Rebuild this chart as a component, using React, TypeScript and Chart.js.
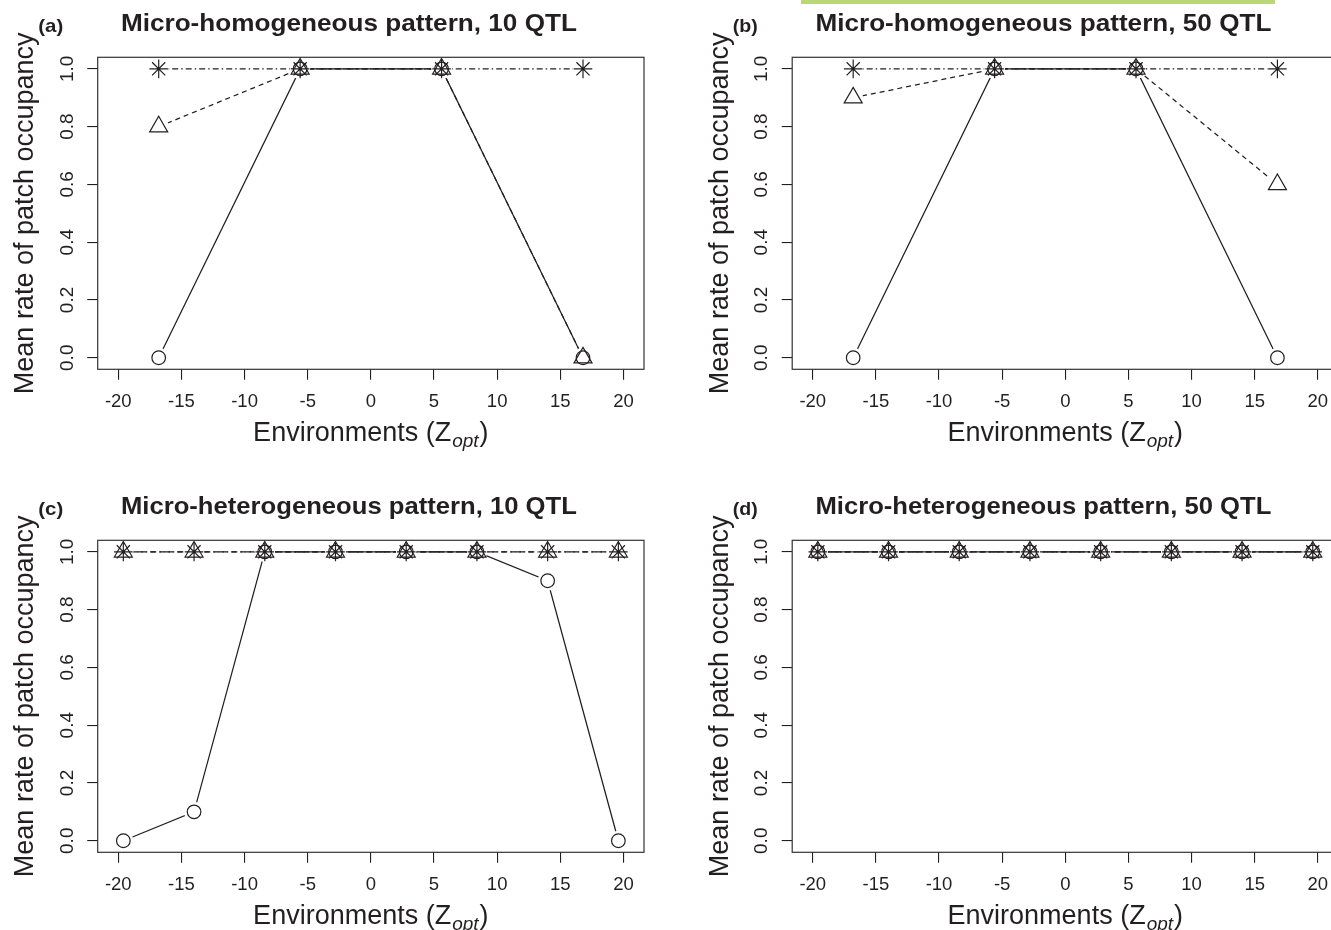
import React, { useEffect, useRef } from "react";
import { Chart, registerables } from "chart.js";

Chart.register(...registerables);

// ---------- data ----------
const xTickValues = [-20, -15, -10, -5, 0, 5, 10, 15, 20];
const yTickValues = [0, 0.2, 0.4, 0.6, 0.8, 1.0];

const envHomo = [-16.8, -5.6, 5.6, 16.8];
const envHetero = [-19.6, -14, -8.4, -2.8, 2.8, 8.4, 14, 19.6];

const aCircle = [0, 1, 1, 0];
const aTriangle = [0.8, 1, 1, 0];
const aStar = [1, 1, 1, 1];

const bCircle = [0, 1, 1, 0];
const bTriangle = [0.9, 1, 1, 0.6];
const bStar = [1, 1, 1, 1];

const cCircle = [0, 0.1, 1, 1, 1, 1, 0.9, 0];
const cTriangle = [1, 1, 1, 1, 1, 1, 1, 1];
const cStar = [1, 1, 1, 1, 1, 1, 1, 1];

const dCircle = [1, 1, 1, 1, 1, 1, 1, 1];
const dTriangle = [1, 1, 1, 1, 1, 1, 1, 1];
const dStar = [1, 1, 1, 1, 1, 1, 1, 1];

const panelLabels = ["(a)", "(b)", "(c)", "(d)"];
const panelTitles = [
  "Micro-homogeneous pattern, 10 QTL",
  "Micro-homogeneous pattern, 50 QTL",
  "Micro-heterogeneous pattern, 10 QTL",
  "Micro-heterogeneous pattern, 50 QTL",
];
const xTitleMain = "Environments (Z";
const xTitleSub = "opt";
const xTitleEnd = ")";
const yTitle = "Mean rate of patch occupancy";

// ---------- style ----------
const FONT = "'Liberation Sans', Arial, Helvetica, sans-serif";
const INK = "#231f20";
const BOX = "#333333";
const X_MIN = -21.63;
const X_MAX = 21.63;
const Y_MIN = -0.04;
const Y_MAX = 1.04;
const Y_AXIS_W = 20;
const X_AXIS_H = 40;

Chart.defaults.font.family = FONT;

type Area = { L: number; T: number; R: number; B: number };
type PanelProps = {
  left: number;
  top: number;
  width: number;
  height: number;
  area: Area;
  label: string;
  title: string;
  env: number[];
  circle: number[];
  triangle: number[];
  star: number[];
};

const pts = (xs: number[], ys: number[]) => xs.map((x, i) => ({ x, y: ys[i] }));

const decorPlugin = {
  id: "decor",
  afterDraw(chart: any) {
    const { ctx, chartArea: ca, scales } = chart;
    const p = chart.options.plugins.decor;
    ctx.save();
    // box
    ctx.strokeStyle = BOX;
    ctx.lineWidth = 1.2;
    ctx.strokeRect(ca.left, ca.top, ca.right - ca.left, ca.bottom - ca.top);

    ctx.fillStyle = INK;
    // y tick labels (rotated, R style)
    ctx.font = `19px ${FONT}`;
    ctx.textAlign = "center";
    ctx.textBaseline = "alphabetic";
    for (const v of yTickValues) {
      const y = scales.y.getPixelForValue(v);
      ctx.save();
      ctx.translate(ca.left - 25, y);
      ctx.rotate(-Math.PI / 2);
      ctx.fillText(v.toFixed(1), 0, 0);
      ctx.restore();
    }
    // y title
    ctx.font = `27px ${FONT}`;
    ctx.save();
    ctx.translate(ca.left - 64.7, (ca.top + ca.bottom) / 2);
    ctx.rotate(-Math.PI / 2);
    ctx.fillText(yTitle, 0, 0);
    ctx.restore();

    // x title with subscript
    const mainFont = `27px ${FONT}`;
    const subFont = `italic 19px ${FONT}`;
    ctx.textAlign = "left";
    ctx.font = mainFont;
    const w1 = ctx.measureText(xTitleMain).width;
    const w3 = ctx.measureText(xTitleEnd).width;
    ctx.font = subFont;
    const w2 = ctx.measureText(xTitleSub).width;
    const total = w1 + w2 + w3 + 2;
    const cx = (ca.left + ca.right) / 2;
    const by = ca.bottom + 71.7;
    let x0 = cx - total / 2;
    ctx.font = mainFont;
    ctx.fillText(xTitleMain, x0, by);
    x0 += w1 + 1;
    ctx.font = subFont;
    ctx.fillText(xTitleSub, x0, by + 6);
    x0 += w2 + 1;
    ctx.font = mainFont;
    ctx.fillText(xTitleEnd, x0, by);

    // panel label
    ctx.font = `bold 19px ${FONT}`;
    const lw = ctx.measureText(p.label).width;
    ctx.save();
    ctx.translate(ca.left - 59.5, ca.top - 25.5);
    ctx.scale(25 / lw, 1);
    ctx.fillText(p.label, 0, 0);
    ctx.restore();

    // title
    ctx.font = `bold 24px ${FONT}`;
    const tw = ctx.measureText(p.title).width;
    ctx.save();
    ctx.translate(ca.left + 23.2, ca.top - 26);
    ctx.scale(456 / tw, 1);
    ctx.fillText(p.title, 0, 0);
    ctx.restore();

    ctx.restore();
  },
};

function Panel(props: PanelProps) {
  const ref = useRef<HTMLCanvasElement | null>(null);
  useEffect(() => {
    if (!ref.current) return;
    const { area, width, height, env, circle, triangle, star } = props;
    const lineBase = {
      showLine: true,
      borderColor: INK,
      borderWidth: 1.25,
      pointRadius: 0,
      tension: 0,
      fill: false,
      order: 3,
    };
    const maskData = [...pts(env, circle), ...pts(env, triangle), ...pts(env, star)];
    const markerBase = {
      showLine: false,
      borderColor: INK,
      backgroundColor: "rgba(0,0,0,0)",
      pointBorderColor: INK,
      pointBackgroundColor: "rgba(0,0,0,0)",
      pointBorderWidth: 1.2,
      order: 1,
    };
    const chart = new Chart(ref.current, {
      type: "scatter",
      data: {
        datasets: [
          { ...lineBase, data: pts(env, circle), borderDash: [] },
          { ...lineBase, data: pts(env, triangle), borderDash: [5, 4] },
          { ...lineBase, data: pts(env, star), borderDash: [6, 3, 1.5, 3] },
          {
            data: maskData,
            showLine: false,
            pointRadius: 10,
            pointStyle: "circle",
            pointBackgroundColor: "#ffffff",
            pointBorderColor: "#ffffff",
            pointBorderWidth: 0,
            order: 2,
          },
          { ...markerBase, data: pts(env, circle), pointStyle: "circle", pointRadius: 6.8 },
          { ...markerBase, data: pts(env, triangle), pointStyle: "triangle", pointRadius: 10.4 },
          { ...markerBase, data: pts(env, star), pointStyle: "star", pointRadius: 9.3 },
        ] as any,
      },
      options: {
        animation: false,
        responsive: false,
        devicePixelRatio: 1,
        events: [],
        layout: {
          padding: {
            left: area.L - Y_AXIS_W,
            top: area.T,
            right: width - area.R,
            bottom: height - area.B - X_AXIS_H,
          },
        },
        plugins: {
          legend: { display: false },
          tooltip: { enabled: false },
          title: { display: false },
          decor: { label: props.label, title: props.title },
        } as any,
        scales: {
          x: {
            type: "linear",
            min: X_MIN,
            max: X_MAX,
            afterBuildTicks: (s: any) => {
              s.ticks = xTickValues.map((v) => ({ value: v }));
            },
            afterFit: (s: any) => {
              s.height = X_AXIS_H;
            },
            grid: {
              drawOnChartArea: false,
              drawTicks: true,
              tickLength: 10.5,
              color: INK,
              lineWidth: 1.1,
            },
            border: { display: false },
            ticks: {
              color: INK,
              font: { size: 18.5, family: FONT },
              padding: 11,
              maxRotation: 0,
              minRotation: 0,
              autoSkip: false,
              callback: (v: any) => String(v),
            },
          },
          y: {
            type: "linear",
            min: Y_MIN,
            max: Y_MAX,
            afterBuildTicks: (s: any) => {
              s.ticks = yTickValues.map((v) => ({ value: v }));
            },
            afterFit: (s: any) => {
              s.width = Y_AXIS_W;
            },
            grid: {
              drawOnChartArea: false,
              drawTicks: true,
              tickLength: 10.5,
              color: INK,
              lineWidth: 1.1,
            },
            border: { display: false },
            ticks: { display: false },
          },
        },
      } as any,
      plugins: [decorPlugin],
    });
    return () => chart.destroy();
  }, []);
  return (
    <canvas
      ref={ref}
      width={props.width}
      height={props.height}
      style={{
        position: "absolute",
        left: props.left,
        top: props.top,
        width: props.width,
        height: props.height,
        display: "block",
      }}
    />
  );
}

export default function App() {
  const areaLeft: Area = { L: 97.7, T: 57.3, R: 644, B: 369.3 };
  const areaRight: Area = { L: 102.2, T: 57.3, R: 648.5, B: 369.3 };
  const areaLeftLow: Area = { L: 97.7, T: 75.3, R: 644, B: 387.3 };
  const areaRightLow: Area = { L: 102.2, T: 75.3, R: 648.5, B: 387.3 };
  return (
    <div
      style={{
        position: "absolute",
        left: 0,
        top: 0,
        width: 1331,
        height: 930,
        overflow: "hidden",
        background: "#ffffff",
      }}
    >
      <Panel left={0} top={0} width={690} height={465} area={areaLeft}
        label={panelLabels[0]} title={panelTitles[0]} env={envHomo}
        circle={aCircle} triangle={aTriangle} star={aStar} />
      <Panel left={690} top={0} width={660} height={465} area={areaRight}
        label={panelLabels[1]} title={panelTitles[1]} env={envHomo}
        circle={bCircle} triangle={bTriangle} star={bStar} />
      <Panel left={0} top={465} width={690} height={465} area={areaLeftLow}
        label={panelLabels[2]} title={panelTitles[2]} env={envHetero}
        circle={cCircle} triangle={cTriangle} star={cStar} />
      <Panel left={690} top={465} width={660} height={465} area={areaRightLow}
        label={panelLabels[3]} title={panelTitles[3]} env={envHetero}
        circle={dCircle} triangle={dTriangle} star={dStar} />
      <div
        style={{
          position: "absolute",
          left: 801,
          top: 0,
          width: 474,
          height: 4,
          background: "#b9d775",
        }}
      />
    </div>
  );
}
